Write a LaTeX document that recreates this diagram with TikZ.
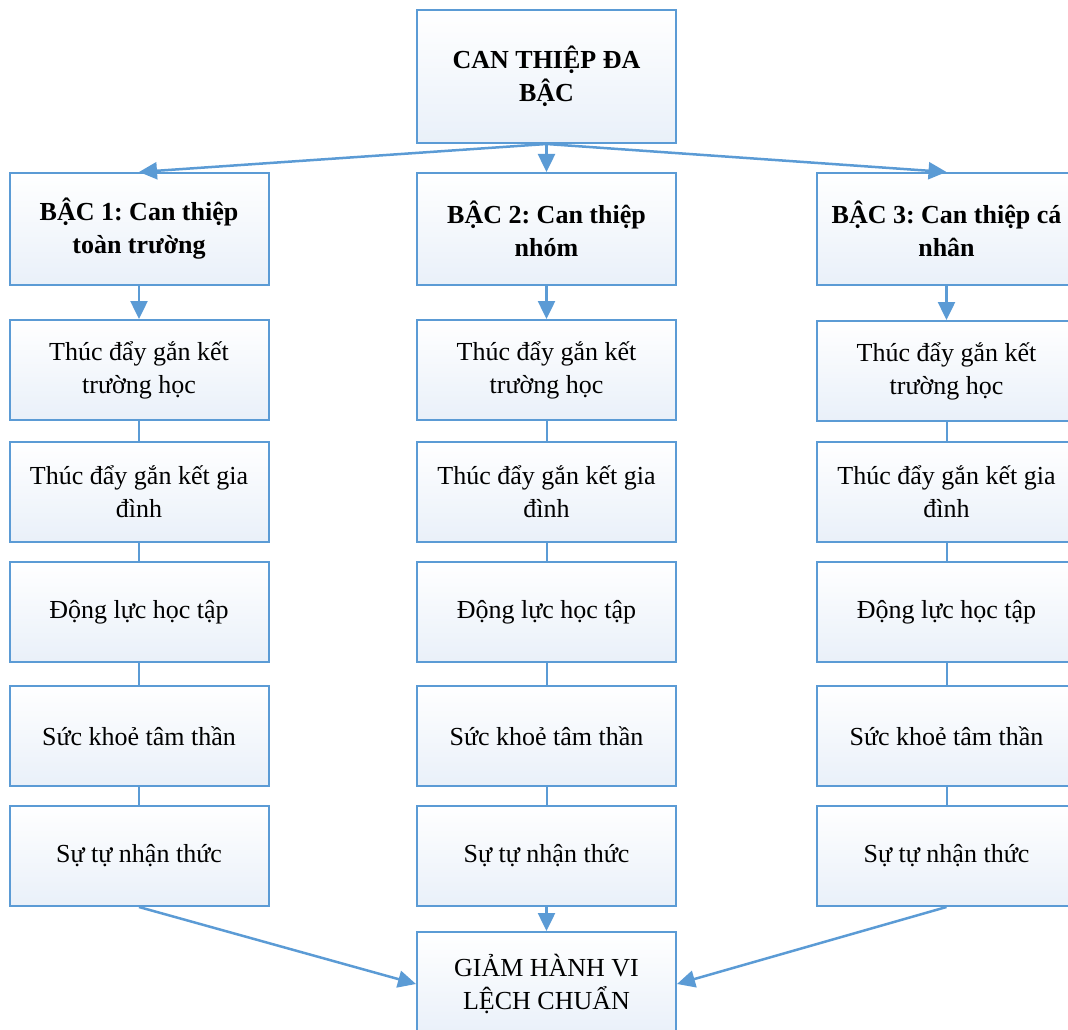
\documentclass[tikz,border=0pt]{standalone}
\usepackage{fontspec}
\setmainfont{Liberation Serif}
\usetikzlibrary{arrows.meta}

\definecolor{vien}{HTML}{5B9BD5}
\definecolor{nen}{HTML}{E9F0F9}

\tikzset{
    hop/.style={draw=vien, line width=2pt, top color=white, bottom color=nen,
        minimum width=259pt, align=center, font=\fontsize{26}{33}\selectfont, inner sep=0pt},
    hopdau/.style={hop, minimum height=112pt, font=\fontsize{26}{33}\selectfont\bfseries},
    hopcon/.style={hop, minimum height=100pt},
    muiten/.style={draw=vien, line width=2.5pt, -{Triangle[length=18pt,width=17pt]}},
    noi/.style={draw=vien, line width=2pt}
}

\begin{document}
\frenchspacing
\begin{tikzpicture}[x=1pt,y=-1pt]
    \useasboundingbox (0,0) rectangle (1068,1030);
    \clip (0,0) rectangle (1068,1030);

    % Hộp trên cùng
    \node[hopdau, minimum height=133pt] (goc) at (546.5,76.5) {CAN THIỆP ĐA\\BẬC};

    % Ba bậc
    \node[hopdau] (bac1) at (139,229) {BẬC 1: Can thiệp\\toàn trường};
    \node[hopdau] (bac2) at (546.5,229) {BẬC 2: Can thiệp\\nhóm};
    \node[hopdau] (bac3) at (946.5,229) {BẬC 3: Can thiệp cá\\nhân};

    % Cột 1
    \node[hopcon] (a1) at (139,370) {Thúc đẩy gắn kết\\trường học};
    \node[hopcon] (a2) at (139,492) {Thúc đẩy gắn kết gia\\đình};
    \node[hopcon] (a3) at (139,612) {Động lực học tập};
    \node[hopcon] (a4) at (139,736) {Sức khoẻ tâm thần};
    \node[hopcon] (a5) at (139,856) {Sự tự nhận thức};

    % Cột 2
    \node[hopcon] (b1) at (546.5,370) {Thúc đẩy gắn kết\\trường học};
    \node[hopcon] (b2) at (546.5,492) {Thúc đẩy gắn kết gia\\đình};
    \node[hopcon] (b3) at (546.5,612) {Động lực học tập};
    \node[hopcon] (b4) at (546.5,736) {Sức khoẻ tâm thần};
    \node[hopcon] (b5) at (546.5,856) {Sự tự nhận thức};

    % Cột 3
    \node[hopcon] (c1) at (946.5,371) {Thúc đẩy gắn kết\\trường học};
    \node[hopcon] (c2) at (946.5,492) {Thúc đẩy gắn kết gia\\đình};
    \node[hopcon] (c3) at (946.5,612) {Động lực học tập};
    \node[hopcon] (c4) at (946.5,736) {Sức khoẻ tâm thần};
    \node[hopcon] (c5) at (946.5,856) {Sự tự nhận thức};

    % Hộp kết quả
    \node[hopcon, minimum height=104pt] (ketqua) at (546.5,984) {GIẢM HÀNH VI\\LỆCH CHUẨN};

    % Mũi tên từ trên xuống
    \draw[muiten] (goc.south) -- (bac1.north);
    \draw[muiten] (goc.south) -- (bac2.north);
    \draw[muiten] (goc.south) -- (bac3.north);
    \draw[muiten] (bac1.south) -- (a1.north);
    \draw[muiten] (bac2.south) -- (b1.north);
    \draw[muiten] (bac3.south) -- (c1.north);

    % Đường nối trong cột
    \draw[noi] (a1) -- (a2) (a2) -- (a3) (a3) -- (a4) (a4) -- (a5);
    \draw[noi] (b1) -- (b2) (b2) -- (b3) (b3) -- (b4) (b4) -- (b5);
    \draw[noi] (c1) -- (c2) (c2) -- (c3) (c3) -- (c4) (c4) -- (c5);

    % Mũi tên vào hộp kết quả
    \draw[muiten] (a5.south) -- (ketqua.west);
    \draw[muiten] (b5.south) -- (ketqua.north);
    \draw[muiten] (c5.south) -- (ketqua.east);
\end{tikzpicture}
\end{document}
